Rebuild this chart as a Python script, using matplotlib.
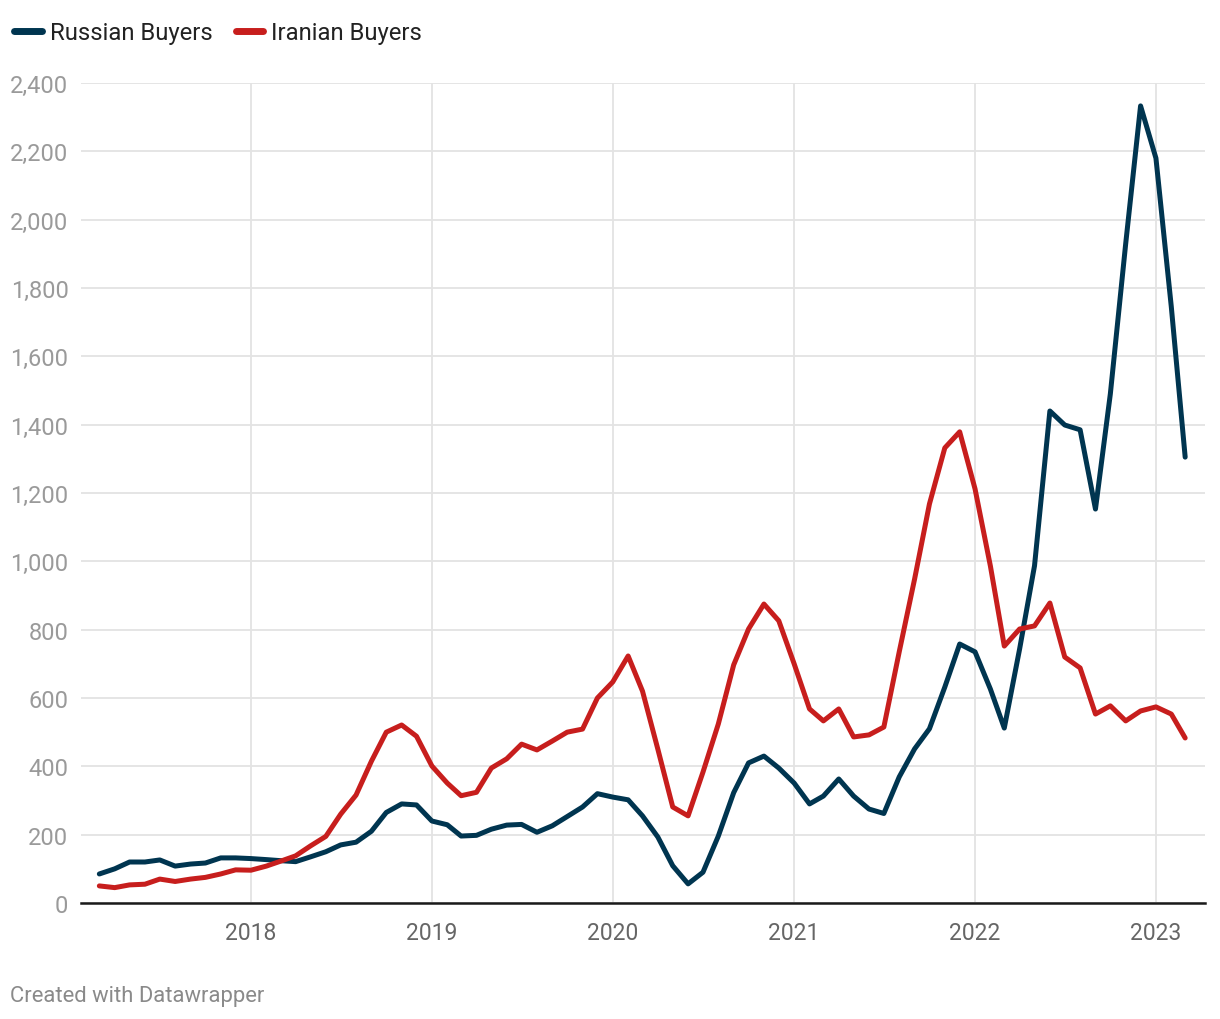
import matplotlib
matplotlib.use('Agg')
import matplotlib.pyplot as plt
import numpy as np
import pandas as pd

plt.rcParams['font.family'] = ['Roboto', 'DejaVu Sans']

# monthly values, March 2017 .. March 2023
russian = [85, 100, 120, 120, 126, 108, 114, 117, 132, 132,
           130, 127, 124, 121, 135, 150, 170, 178, 210, 265, 290, 287,
           240, 229, 196, 198, 216, 228, 230, 207, 226, 253, 281, 320,
           310, 302, 255, 193, 109, 56, 90, 196, 323, 410, 430, 395,
           351, 290, 313, 363, 313, 275, 262, 369, 451, 510, 632, 758,
           735, 626, 512, 744, 987, 1440, 1399, 1385, 1153, 1490, 1930, 2333,
           2180, 1745, 1305]
iranian = [50, 45, 53, 55, 70, 63, 70, 75, 85, 97,
           96, 108, 122, 138, 167, 195, 260, 316, 415, 500, 521, 488,
           401, 351, 314, 324, 395, 422, 465, 448, 474, 500, 509, 600,
           647, 723, 620, 450, 281, 255, 383, 524, 697, 802, 875, 826,
           700, 568, 533, 568, 486, 492, 515, 735, 948, 1168, 1332, 1379,
           1212, 986, 752, 802, 811, 878, 720, 688, 553, 577, 533, 562,
           574, 553, 483]
dates = pd.date_range('2017-03-01', periods=len(russian), freq='MS')
year_labels = ['2018', '2019', '2020', '2021', '2022', '2023']
yticks = list(range(0, 2401, 200))

fig = plt.figure(figsize=(12.2, 10.2), dpi=100)
ax = fig.add_axes([81/1220, 1 - 904/1020, (1205 - 81)/1220, (904 - 84)/1020])

ax.plot(dates, russian, color='#003550', lw=3.6, solid_joinstyle='round',
        solid_capstyle='round', label='Russian Buyers', zorder=3)
ax.plot(dates, iranian, color='#c71e1d', lw=3.6, solid_joinstyle='round',
        solid_capstyle='round', label='Iranian Buyers', zorder=3)

ax.set_xlim(pd.Timestamp('2017-01-23'), pd.Timestamp('2023-04-10'))
ax.set_ylim(0, 2400)
ax.set_yticks(yticks)
ax.set_yticklabels(['{:,}'.format(v) for v in yticks])
ax.set_xticks([pd.Timestamp(y + '-01-01') for y in year_labels])
ax.set_xticklabels(year_labels)

ax.grid(True, color='#e3e3e3', lw=1.3, zorder=0)
for s in ['top', 'right', 'left']:
    ax.spines[s].set_visible(False)
ax.spines['bottom'].set_color('#1a1a1a')
ax.spines['bottom'].set_linewidth(1.8)
ax.spines['bottom'].set_zorder(4)

ax.tick_params(axis='y', length=0, pad=9, labelsize=17, labelcolor='#9a9a9a')
ax.tick_params(axis='x', length=0, pad=13, labelsize=16.5, labelcolor='#666666')

leg = fig.legend(loc='upper left', bbox_to_anchor=(-0.003, 0.996), ncol=2,
                 frameon=False, fontsize=17.2, handlelength=1.15,
                 handletextpad=0.35, columnspacing=0.95, borderaxespad=0.3,
                 borderpad=0.45)
for t in leg.get_texts():
    t.set_color('#222222')
for h in leg.get_lines():
    h.set_linewidth(5)
    h.set_solid_capstyle('round')

fig.text(10/1220, 1 - 997/1020, 'Created with Datawrapper', fontsize=15.8,
         color='#8a8a8a', va='center', ha='left')

fig.savefig('out.png', dpi=100)
